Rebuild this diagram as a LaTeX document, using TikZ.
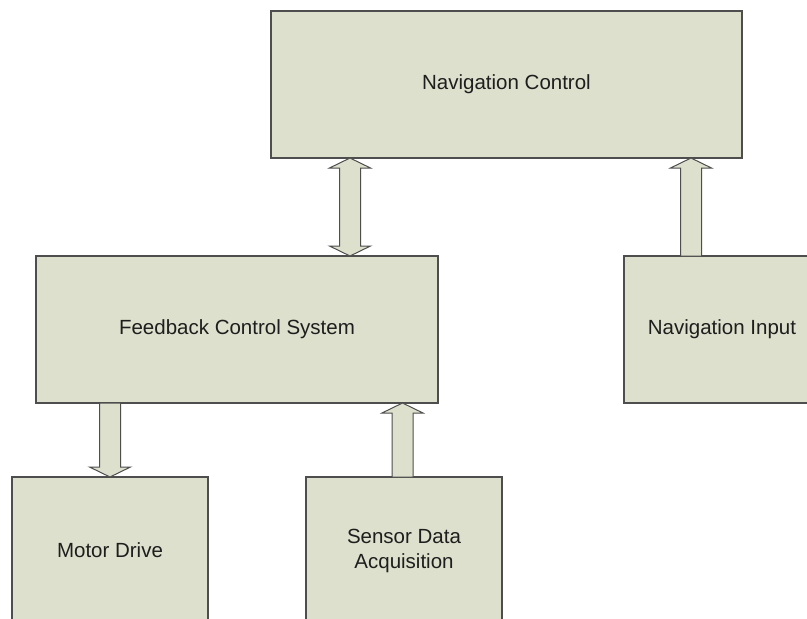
\documentclass[tikz,border=0pt]{standalone}
\usepackage{fontspec}
\setmainfont{Liberation Sans}
\usetikzlibrary{calc}

\definecolor{boxfill}{RGB}{221,224,204}
\definecolor{boxline}{RGB}{78,78,78}
\definecolor{labeltext}{RGB}{30,30,30}

% vertical block arrow from tail #1 to tip #2
\newcommand\blockarrow[2]{%
  \coordinate (hb) at ($(#2)!10pt!(#1)$);
  \draw[arrowbody] ($(#1)+(-10.5,0)$) -- ($(hb)+(-10.5,0)$) -- ($(hb)+(-20.5,0)$)
    -- (#2) -- ($(hb)+(20.5,0)$) -- ($(hb)+(10.5,0)$) -- ($(#1)+(10.5,0)$) -- cycle;
}
% vertical block arrow with heads at both ends
\newcommand\twowayblockarrow[2]{%
  \coordinate (ha) at ($(#1)!10pt!(#2)$);
  \coordinate (hb) at ($(#2)!10pt!(#1)$);
  \draw[arrowbody] (#1) -- ($(ha)+(20.5,0)$) -- ($(ha)+(10.5,0)$) -- ($(hb)+(10.5,0)$)
    -- ($(hb)+(20.5,0)$) -- (#2) -- ($(hb)+(-20.5,0)$) -- ($(hb)+(-10.5,0)$)
    -- ($(ha)+(-10.5,0)$) -- ($(ha)+(-20.5,0)$) -- cycle;
}

\tikzset{
  block/.style={draw=boxline, fill=boxfill, line width=1.3pt, rectangle,
    inner sep=0pt, outer sep=0pt, minimum height=147pt, text=labeltext,
    font=\fontsize{20.5}{25}\selectfont, align=center},
  arrowbody/.style={draw=boxline, fill=boxfill, line width=1pt, line join=miter},
}

\begin{document}
\begin{tikzpicture}[x=1pt, y=-1pt]
  \useasboundingbox (0,0) rectangle (807,619);
  \clip (0,0) rectangle (807,619);
  \fill[white] (0,0) rectangle (807,619);

  \node[block, minimum width=471pt] (nc)  at (506.5,84.5)  {Navigation Control};
  \node[block, minimum width=402pt] (fcs) at (237,329.5)   {Feedback Control System};
  \node[block, minimum width=196pt] (ni)  at (722,329.5)   {Navigation Input};
  \node[block, minimum width=196pt] (md)  at (110,550.5)   {Motor Drive};
  \node[block, minimum width=196pt] (sda) at (404,550.5)   {Sensor Data\\Acquisition};

  % connector end points on the box edges
  \coordinate (ncfcs) at ($(nc.south west)+(79,0)$);
  \coordinate (fcsnc) at (fcs.north -| ncfcs);
  \coordinate (nitop) at ($(ni.north west)+(67,0)$);
  \coordinate (ncni)  at (nc.south -| nitop);
  \coordinate (fcsmd) at (fcs.south -| md.north);
  \coordinate (sdatop) at ($(sda.north)+(-1.5,0)$);
  \coordinate (fcssda) at (fcs.south -| sdatop);

  \twowayblockarrow{ncfcs}{fcsnc}
  \blockarrow{nitop}{ncni}
  \blockarrow{fcsmd}{md.north}
  \blockarrow{sdatop}{fcssda}
\end{tikzpicture}
\end{document}
